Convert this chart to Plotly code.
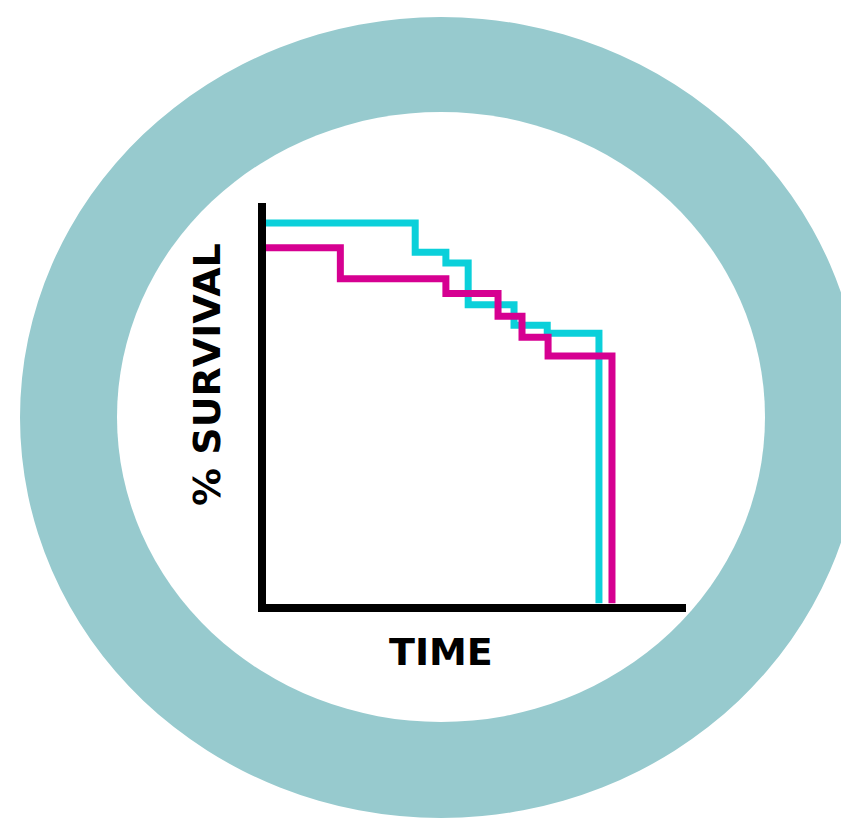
import plotly.graph_objects as go

# ---- data (time in arbitrary units, survival in %) ----
time_a = [0, 35.6, 42.9, 48.2, 59.1, 67.0, 79.3]
surv_a = [95.0, 87.7, 85.0, 74.6, 69.5, 67.5, 0]

time_b = [0, 17.8, 42.9, 55.3, 61.0, 67.2, 82.4]
surv_b = [88.8, 81.1, 77.4, 71.7, 66.5, 61.8, 0]

x_title = "TIME"
y_title = "% SURVIVAL"

# page body has an 8px margin, so the figure is placed at (8, 8)
OFF = 8
W, H = 849 - OFF, 831 - OFF

def px(x):
    return (x - OFF) / W

def py(y):
    return 1 - (y - OFF) / H

fig = go.Figure()
fig.add_trace(go.Scatter(x=time_a, y=surv_a, mode="lines",
                         line=dict(color="#0BD0DA", width=7, shape="hv"),
                         showlegend=False, hoverinfo="skip"))
fig.add_trace(go.Scatter(x=time_b, y=surv_b, mode="lines",
                         line=dict(color="#D60091", width=7, shape="hv"),
                         showlegend=False, hoverinfo="skip"))

ring = "#97CACE"
fig.update_layout(
    width=W, height=H,
    margin=dict(l=0, r=0, t=0, b=0),
    paper_bgcolor="white",
    plot_bgcolor="rgba(0,0,0,0)",
    shapes=[
        dict(type="circle", xref="paper", yref="paper", layer="below",
             x0=px(20), x1=px(862), y0=py(818), y1=py(17),
             fillcolor=ring, line=dict(width=0)),
        dict(type="circle", xref="paper", yref="paper", layer="below",
             x0=px(117), x1=px(765), y0=py(722), y1=py(112),
             fillcolor="white", line=dict(width=0)),
    ],
    xaxis=dict(domain=[px(265.5), px(686)], range=[0, 100],
               showline=True, linecolor="black", linewidth=8,
               showgrid=False, zeroline=False, showticklabels=False, ticks=""),
    yaxis=dict(domain=[py(603.5), py(203)], range=[0, 100],
               showline=True, linecolor="black", linewidth=8,
               showgrid=False, zeroline=False, showticklabels=False, ticks=""),
    annotations=[
        dict(text="<b>" + x_title + "</b>", xref="paper", yref="paper",
             x=px(441), y=py(651.5), xanchor="center", yanchor="middle",
             showarrow=False,
             font=dict(family="DejaVu Sans", size=38, color="black")),
        dict(text="<b>" + y_title + "</b>", xref="paper", yref="paper",
             x=px(207), y=py(375), xanchor="center", yanchor="middle",
             textangle=-90, showarrow=False,
             font=dict(family="DejaVu Sans", size=38, color="black")),
    ],
)

fig.write_html("out.html")
